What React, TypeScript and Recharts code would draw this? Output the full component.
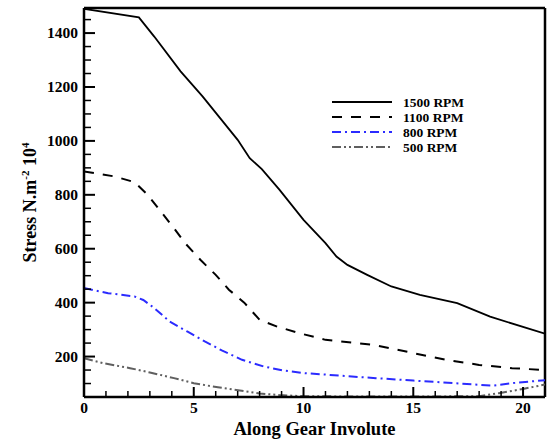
import React from 'react';
import { LineChart, Line, XAxis, YAxis, ReferenceLine, Legend, Label } from 'recharts';

// values (x along the involute, stress in N.m^-2 x 10^4)
const rpm1500X = [0, 2.5, 3.2, 4.4, 5.4, 7.0, 7.55, 8.1, 8.9, 10.0, 11.0, 11.5, 12.0, 12.9, 14.0, 15.3, 17.0, 18.5, 21];
const rpm1500Y = [1490, 1458, 1387, 1258, 1165, 1004, 936, 895, 819, 707, 621, 571, 540, 503, 460, 429, 398, 348, 285];

const rpm1100X = [0, 1.4, 2.3, 2.9, 3.5, 4.1, 4.6, 5.3, 6.0, 6.6, 7.3, 8.0, 8.8, 9.8, 11.0, 13.2, 15.0, 16.5, 18.0, 19.5, 21];
const rpm1100Y = [887, 868, 847, 800, 738, 676, 621, 559, 503, 448, 400, 336, 311, 287, 262, 243, 213, 188, 169, 157, 150];

const rpm800X = [0, 1.1, 2.3, 2.7, 3.2, 3.9, 4.7, 5.5, 6.3, 7.2, 8.2, 9.1, 10.1, 11.2, 12.2, 13.3, 15.0, 16.9, 18.6, 19.8, 21];
const rpm800Y = [454, 435, 423, 410, 380, 330, 293, 256, 222, 188, 163, 148, 138, 132, 126, 120, 111, 101, 92, 104, 112];

const rpm500X = [0, 0.9, 2.1, 3.0, 4.1, 5.0, 6.1, 7.1, 8.0, 8.9, 10, 12, 14, 16, 18, 18.9, 20, 21];
const rpm500Y = [194, 175, 157, 141, 120, 101, 86, 74, 63, 57, 53, 52, 52, 52, 53, 64, 80, 96];

const xTicks = Array.from({ length: 22 }, (_, i) => i);
const yTicks = Array.from({ length: 28 }, (_, i) => 100 + i * 50);
const X_MAX = 21;
const Y_MIN = 50;
const Y_MAX = 1493;

const FONT = "'Liberation Serif', 'Times New Roman', serif";

const zip = (xs: number[], ys: number[]) => xs.map((x, i) => ({ x, y: ys[i] }));

const SERIES = [
  { name: '1500 RPM', data: zip(rpm1500X, rpm1500Y), color: '#000000', dash: undefined, width: 1.8 },
  { name: '1100 RPM', data: zip(rpm1100X, rpm1100Y), color: '#000000', dash: '10 9', width: 2 },
  { name: '800 RPM', data: zip(rpm800X, rpm800Y), color: '#2b2bff', dash: '9 4 2 4', width: 2 },
  { name: '500 RPM', data: zip(rpm500X, rpm500Y), color: '#5f5f5f', dash: '9 3 2 3 2 3', width: 2 },
];

const YTick = (props: any) => {
  const { x, y, payload } = props;
  const v = payload.value;
  const major = v % 200 === 0;
  return (
    <g>
      <line x1={x} y1={y} x2={x + (major ? 11 : 7)} y2={y} stroke="#000" strokeWidth={major ? 2 : 1.5} />
      {major && (
        <text x={x - 6} y={y} dy="0.35em" textAnchor="end" fontFamily={FONT} fontWeight="bold" fontSize={15.5} fill="#000">
          {v}
        </text>
      )}
    </g>
  );
};

const XTick = (props: any) => {
  const { x, y, payload } = props;
  const v = payload.value;
  const major = v % 5 === 0;
  return (
    <g>
      <line x1={x} y1={y} x2={x} y2={y - (major ? 10 : 6)} stroke="#000" strokeWidth={major ? 2 : 1.5} />
      {major && (
        <text x={x} y={y + 16} textAnchor="middle" fontFamily={FONT} fontWeight="bold" fontSize={15.5} fill="#000">
          {v}
        </text>
      )}
    </g>
  );
};

const LegendBox = () => (
  <svg width={160} height={62}>
    {SERIES.map((s, i) => {
      const cy = 8 + i * 15;
      return (
        <g key={s.name}>
          <line x1={2} y1={cy} x2={62} y2={cy} stroke={s.color} strokeWidth={s.width} strokeDasharray={s.dash} />
          <text x={73} y={cy} dy="0.35em" fontFamily={FONT} fontWeight="bold" fontSize={13.5} fill="#000">
            {s.name}
          </text>
        </g>
      );
    })}
  </svg>
);

export default function App() {
  return (
    <div style={{ position: 'absolute', left: 0, top: 0, background: '#fff' }}>
      <LineChart width={552} height={439} margin={{ top: 8, right: 7, left: 0, bottom: 0 }}>
        <XAxis
          type="number"
          dataKey="x"
          domain={[0, X_MAX]}
          ticks={xTicks}
          interval={0}
          tick={<XTick />}
          tickLine={false}
          tickSize={0}
          tickMargin={0}
          height={42}
          axisLine={{ stroke: '#000', strokeWidth: 2.5 }}
          allowDataOverflow
        >
          <Label
            value="Along Gear Involute"
            position="insideBottom"
            offset={4}
            style={{ fontFamily: FONT, fontWeight: 'bold', fontSize: 18.5, fill: '#000' }}
          />
        </XAxis>
        <YAxis
          type="number"
          domain={[Y_MIN, Y_MAX]}
          ticks={yTicks}
          interval={0}
          tick={<YTick />}
          tickLine={false}
          tickSize={0}
          tickMargin={0}
          width={84}
          axisLine={{ stroke: '#000', strokeWidth: 2.5 }}
          allowDataOverflow
          label={(p: any) => {
            const vb = p.viewBox;
            const cx = 30;
            const cy = vb.y + vb.height / 2;
            return (
              <text
                x={cx}
                y={cy}
                transform={`rotate(-90 ${cx} ${cy})`}
                textAnchor="middle"
                dy="0.35em"
                fontFamily={FONT}
                fontWeight="bold"
                fontSize={18}
                fill="#000"
              >
                Stress N.m
                <tspan dy={-7} fontSize={11}>-2</tspan>
                <tspan dy={7}> 10</tspan>
                <tspan dy={-7} fontSize={11}>4</tspan>
              </text>
            );
          }}
        />
        <ReferenceLine y={Y_MAX} stroke="#000" strokeWidth={2.5} />
        <ReferenceLine x={X_MAX} stroke="#000" strokeWidth={2.5} />
        {SERIES.map((s) => (
          <Line
            key={s.name}
            data={s.data}
            dataKey="y"
            name={s.name}
            type="linear"
            stroke={s.color}
            strokeWidth={s.width}
            strokeDasharray={s.dash}
            dot={false}
            activeDot={false}
            isAnimationActive={false}
          />
        ))}
        <Legend
          content={<LegendBox />}
          layout="vertical"
          align="center"
          verticalAlign="middle"
          wrapperStyle={{ left: 330, top: 94, width: 160, height: 62 }}
        />
      </LineChart>
    </div>
  );
}
